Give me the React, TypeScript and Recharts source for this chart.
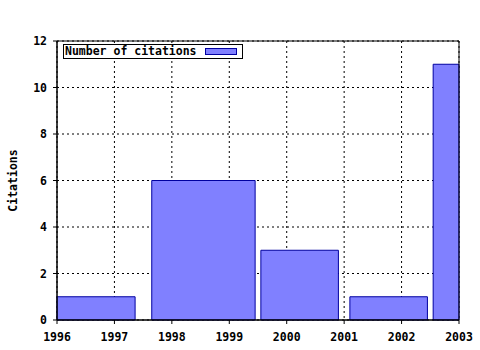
import React from 'react';
import {
  ComposedChart,
  XAxis,
  YAxis,
  CartesianGrid,
  ReferenceArea,
  Legend,
} from 'recharts';

// Histogram boxes: start year, end year, citation count
const barStarts = [1996, 1997.65, 1999.55, 2001.1, 2002.55];
const barEnds = [1997.36, 1999.45, 2000.9, 2002.45, 2003];
const citations = [1, 6, 3, 1, 11];

const xTicks = [1996, 1997, 1998, 1999, 2000, 2001, 2002, 2003];
const xMinorTicks = [
  1996, 1996.25, 1996.5, 1996.75, 1997, 1997.25, 1997.5, 1997.75,
  1998, 1998.25, 1998.5, 1998.75, 1999, 1999.25, 1999.5, 1999.75,
  2000, 2000.25, 2000.5, 2000.75, 2001, 2001.25, 2001.5, 2001.75,
  2002, 2002.25, 2002.5, 2002.75, 2003,
];
const yTicks = [0, 2, 4, 6, 8, 10, 12];

const seriesName = 'Number of citations';
const axisTitle = 'Citations';

const FONT = "'DejaVu Sans Mono', monospace";
const FILL = '#8080ff';
const EDGE = '#0000a0';

const data = barStarts.map((s, i) => ({ start: s, end: barEnds[i], value: citations[i] }));

const tickStyle = { fontFamily: FONT, fontWeight: 'bold' as const, fontSize: 11.5, fill: '#000' };

const LegendBox = () => (
  <div
    style={{
      border: '1px solid #000',
      background: '#fff',
      display: 'flex',
      alignItems: 'center',
      padding: '0 5px 0 1px',
      height: 13,
      fontFamily: FONT,
      fontWeight: 'bold',
      fontSize: 11.5,
      color: '#000',
      lineHeight: '13px',
      whiteSpace: 'nowrap',
    }}
  >
    <span>{seriesName}</span>
    <span
      style={{
        display: 'inline-block',
        width: 30,
        height: 5,
        marginLeft: 8,
        background: FILL,
        border: `1px solid ${EDGE}`,
      }}
    />
  </div>
);

export default function App() {
  return (
    <div style={{ position: 'absolute', left: 0, top: 0, width: 480, height: 350, background: '#fff' }}>
      <ComposedChart
        width={480}
        height={350}
        data={data}
        margin={{ top: 41, right: 21, bottom: 0, left: 0 }}
      >
        <CartesianGrid
          xAxisId="main"
          yAxisId="main"
          stroke="#000"
          strokeDasharray="2 3"
        />
        <XAxis
          xAxisId="minorBottom"
          type="number"
          dataKey="start"
          domain={[1996, 2003]}
          ticks={xMinorTicks}
          allowDataOverflow
          interval={0}
          height={0}
          tickSize={3}
          tick={false}
          axisLine={false}
          stroke="#000"
        />
        <XAxis
          xAxisId="main"
          type="number"
          dataKey="start"
          domain={[1996, 2003]}
          ticks={xTicks}
          allowDataOverflow
          interval={0}
          height={30}
          tickSize={4}
          tickMargin={9}
          stroke="#000"
          tick={tickStyle}
        />
        <XAxis
          xAxisId="minorTop"
          type="number"
          dataKey="start"
          domain={[1996, 2003]}
          ticks={xMinorTicks}
          allowDataOverflow
          interval={0}
          orientation="top"
          height={0}
          tickSize={3}
          tick={false}
          axisLine={false}
          stroke="#000"
        />
        <YAxis
          yAxisId="main"
          type="number"
          dataKey="value"
          domain={[0, 12]}
          ticks={yTicks}
          allowDataOverflow
          interval={0}
          width={57}
          tickSize={4}
          tickMargin={6}
          stroke="#000"
          tick={tickStyle}
          label={{
            value: axisTitle,
            angle: -90,
            position: 'insideLeft',
            offset: 13,
            style: { textAnchor: 'middle', fontFamily: FONT, fontWeight: 'bold', fontSize: 11.5, fill: '#000' },
          }}
        />
        {data.map((d, i) => (
          <ReferenceArea
            key={i}
            xAxisId="main"
            yAxisId="main"
            x1={d.start}
            x2={d.end}
            y1={0}
            y2={d.value}
            fill={FILL}
            fillOpacity={1}
            stroke={EDGE}
            strokeWidth={1}
          />
        ))}
        <ReferenceArea
          xAxisId="main"
          yAxisId="main"
          x1={1996}
          x2={2003}
          y1={0}
          y2={12}
          fill="none"
          stroke="#000"
          strokeWidth={1}
        />
        <Legend
          layout="horizontal"
          verticalAlign="middle"
          align="center"
          content={() => <LegendBox />}
          wrapperStyle={{ left: 63, top: 44, width: 'auto', height: 'auto' }}
        />
      </ComposedChart>
    </div>
  );
}
